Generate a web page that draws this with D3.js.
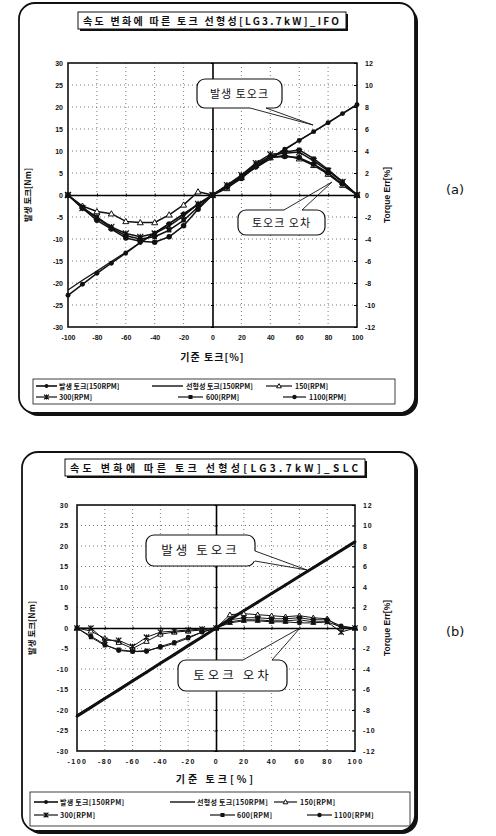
<!DOCTYPE html>
<html>
<head>
<meta charset="utf-8">
<script src="https://cdn.jsdelivr.net/npm/d3@7"></script>
<style>
  body { margin: 0; background: #fff; }
  text { fill: #111; }
</style>
</head>
<body>
<svg id="chart" width="496" height="836"></svg>
<script>
// reference torque [%] (x axis)
const torquePct = [-100,-90,-80,-70,-60,-50,-40,-30,-20,-10,0,10,20,30,40,50,60,70,80,90,100];
const xTicks = [-100,-80,-60,-40,-20,0,20,40,60,80,100];
const leftTicks = [-30,-25,-20,-15,-10,-5,0,5,10,15,20,25,30];
const rightTicks = [-12,-10,-8,-6,-4,-2,0,2,4,6,8,10,12];
const legendLabels = ['발생 토크[150RPM]','선형성 토크[150RPM]','150[RPM]','300[RPM]','600[RPM]','1100[RPM]'];

// (a) IFO  -- torque in Nm, errors in %
const genA = [-22.8,-20.3,-17.8,-15.5,-13.2,-10.8,-8.7,-6.5,-4.3,-2.1,0,2.1,4.2,6.3,8.4,10.4,12.4,14.4,16.4,18.5,20.5];
const linA = [-21.6,-19.4,-17.3,-15.1,-13.0,-10.8,-8.6,-6.5,-4.3,-2.2,0,2.1,4.1,6.2,8.2,10.3,12.4,14.4,16.5,18.5,20.6];
const err150A  = [0,-1.0,-1.5,-1.7,-2.4,-2.5,-2.5,-1.8,-0.9,0.3,0,0.6,1.6,2.7,3.4,3.6,3.3,2.7,1.9,0.9,0];
const err300A  = [0,-1.2,-2.0,-2.9,-3.5,-3.8,-3.5,-2.8,-1.9,-0.8,0,0.9,1.8,2.9,3.7,3.8,3.9,3.1,2.2,1.2,0];
const err600A  = [0,-1.1,-2.1,-3.0,-3.7,-4.0,-3.8,-3.2,-2.3,-1.1,0,0.8,1.7,2.8,3.5,3.9,4.1,3.3,2.3,1.2,0];
const err1100A = [0,-1.2,-2.3,-3.1,-3.9,-4.2,-4.3,-3.8,-2.8,-1.3,0,0.7,1.5,2.6,3.4,3.5,3.4,2.8,2.0,1.0,0];

// (b) SLC
const genB = [-21.5,-19.4,-17.2,-15.1,-12.9,-10.8,-8.6,-6.5,-4.3,-2.2,0,2.1,4.2,6.3,8.4,10.5,12.6,14.7,16.8,18.9,21.0];
const linB = [-21.2,-19.1,-17.0,-14.8,-12.7,-10.6,-8.5,-6.4,-4.2,-2.1,0,2.1,4.2,6.4,8.5,10.6,12.7,14.8,17.0,19.1,21.2];
const err150B  = [0,-0.3,-1.0,-1.4,-2.0,-1.3,-0.6,-0.4,-0.3,-0.2,0,1.3,1.4,1.3,1.2,1.1,1.2,1.0,0.9,0.0,0];
const err300B  = [0,0,-1.2,-1.2,-1.8,-0.9,-0.4,-0.3,-0.2,-0.1,0,0.6,0.8,0.8,0.7,0.7,0.8,0.6,0.6,-0.4,0];
const err600B  = [0,-0.9,-1.7,-2.1,-2.3,-2.2,-1.9,-1.5,-1.0,-0.4,0,0.5,0.7,0.7,0.6,0.6,0.5,0.5,0.6,0.1,0];
const err1100B = [0,-0.8,-1.6,-2.2,-2.3,-2.3,-1.8,-1.4,-0.9,-0.4,0,0.8,1.0,1.0,0.9,0.9,1.0,0.8,0.8,0.2,0];

const KR = "'Noto Sans CJK KR', 'Noto Sans', sans-serif";
const NUM = "'Liberation Sans', Arial, sans-serif";

const svg = d3.select('#chart');

// marker shapes
function marker(g, type, cx, cy, s) {
  if (type === 'circle') {
    g.append('circle').attr('cx', cx).attr('cy', cy).attr('r', s * 0.55).attr('fill', '#111');
  } else if (type === 'square') {
    g.append('rect').attr('x', cx - s * 0.5).attr('y', cy - s * 0.5).attr('width', s).attr('height', s).attr('fill', '#111');
  } else if (type === 'triangle') {
    g.append('path')
      .attr('d', `M${cx},${cy - s * 0.6}L${cx + s * 0.6},${cy + s * 0.45}L${cx - s * 0.6},${cy + s * 0.45}Z`)
      .attr('fill', '#fff').attr('stroke', '#111').attr('stroke-width', 1);
  } else if (type === 'star') {
    const r = s * 0.6;
    g.append('path')
      .attr('d', `M${cx - r},${cy - r}L${cx + r},${cy + r}M${cx - r},${cy + r}L${cx + r},${cy - r}M${cx},${cy - r}L${cx},${cy + r}`)
      .attr('stroke', '#111').attr('stroke-width', 1.2).attr('fill', 'none');
  }
}

function callout(g, c) {
  g.append('rect')
    .attr('x', c.box[0]).attr('y', c.box[1]).attr('width', c.box[2]).attr('height', c.box[3])
    .attr('rx', 8).attr('fill', '#fff').attr('stroke', '#111').attr('stroke-width', 1.2);
  g.append('line')
    .attr('x1', c.b1[0]).attr('y1', c.b1[1]).attr('x2', c.b2[0]).attr('y2', c.b2[1])
    .attr('stroke', '#fff').attr('stroke-width', 3);
  g.append('path')
    .attr('d', `M${c.b1[0]},${c.b1[1]}L${c.tip[0]},${c.tip[1]}L${c.b2[0]},${c.b2[1]}`)
    .attr('fill', 'none').attr('stroke', '#111').attr('stroke-width', 0.9);
  g.append('text')
    .attr('x', c.box[0] + c.box[2] / 2).attr('y', c.box[1] + c.box[3] / 2 + 4)
    .attr('text-anchor', 'middle')
    .style('font-family', KR).style('font-size', c.size + 'px')
    .style('letter-spacing', c.spacing + 'px')
    .text(c.text);
}

function drawPanel(p) {
  const g = svg.append('g');
  const [fx, fy, fw, fh] = p.frame;

  // rounded frame with heavy shadow
  g.append('rect').attr('x', fx + 3).attr('y', fy + 3).attr('width', fw).attr('height', fh)
    .attr('rx', 16).attr('fill', '#111');
  g.append('rect').attr('x', fx).attr('y', fy).attr('width', fw).attr('height', fh)
    .attr('rx', 16).attr('fill', '#fff').attr('stroke', '#111').attr('stroke-width', 1.8);

  // title box
  const [tx, ty, tw, th] = p.titleBox;
  g.append('rect').attr('x', tx + 2).attr('y', ty + 2).attr('width', tw).attr('height', th).attr('fill', '#111');
  g.append('rect').attr('x', tx).attr('y', ty).attr('width', tw).attr('height', th)
    .attr('fill', '#fff').attr('stroke', '#111').attr('stroke-width', 1);
  g.append('text')
    .attr('x', tx + 5).attr('y', ty + th / 2 + 4)
    .attr('textLength', tw - 12).attr('lengthAdjust', 'spacing')
    .style('font-family', KR).style('font-weight', 'bold').style('font-size', p.titleSize + 'px')
    .text(p.title);

  const { x0, x1, y0, y1 } = p.plot;
  const x = d3.scaleLinear().domain([-100, 100]).range([x0, x1]);
  const yL = d3.scaleLinear().domain([-30, 30]).range([y1, y0]);
  const yR = d3.scaleLinear().domain([-12, 12]).range([y1, y0]);

  // dotted grid
  const grid = g.append('g').attr('stroke', '#444').attr('stroke-width', 0.7).attr('stroke-dasharray', '1,3');
  grid.selectAll('.gx').data(xTicks.filter(v => v !== 0 && Math.abs(v) !== 100)).enter().append('line')
    .attr('x1', d => x(d)).attr('x2', d => x(d)).attr('y1', y0).attr('y2', y1);
  grid.selectAll('.gy').data(leftTicks.filter(v => v !== 0 && Math.abs(v) !== 30)).enter().append('line')
    .attr('y1', d => yL(d)).attr('y2', d => yL(d)).attr('x1', x0).attr('x2', x1);

  // plot border
  g.append('rect').attr('x', x0).attr('y', y0).attr('width', x1 - x0).attr('height', y1 - y0)
    .attr('fill', 'none').attr('stroke', '#111').attr('stroke-width', 1.6);

  // axes crossing at zero
  const zx = g.append('g').attr('transform', `translate(0,${yL(0)})`)
    .call(d3.axisBottom(x).tickValues(xTicks).tickFormat('').tickSizeInner(3).tickSizeOuter(0));
  zx.attr('transform', `translate(0,${yL(0) - 1.5})`);
  zx.select('.domain').attr('stroke-width', 1.6).attr('transform', 'translate(0,1.5)');
  zx.selectAll('.tick line').attr('stroke-width', 1);
  const zy = g.append('g').attr('transform', `translate(${x(0) + 1.5},0)`)
    .call(d3.axisLeft(yL).tickValues(leftTicks).tickFormat('').tickSizeInner(3).tickSizeOuter(0));
  zy.select('.domain').attr('stroke-width', 1.6).attr('transform', 'translate(-1.5,0)');

  // left tick labels
  const la = g.append('g').attr('transform', `translate(${x0},0)`)
    .call(d3.axisLeft(yL).tickValues(leftTicks).tickFormat(d => String(d)).tickSize(0).tickPadding(p.tickPad));
  la.select('.domain').remove();
  la.selectAll('text').style('font-family', NUM).style('font-weight', 'bold').style('font-size', '7px')
    .style('letter-spacing', p.numSpacing * 0.5 + 'px');

  // right axis
  const ra = g.append('g').attr('transform', `translate(${x1},0)`)
    .call(d3.axisRight(yR).tickValues(rightTicks).tickFormat(d => String(d)).tickSizeInner(-3).tickSizeOuter(0).tickPadding(8));
  ra.select('.domain').remove();
  ra.selectAll('text').style('font-family', NUM).style('font-weight', 'bold').style('font-size', '7px')
    .style('letter-spacing', p.numSpacing * 0.5 + 'px');

  // bottom tick labels
  const ba = g.append('g').attr('transform', `translate(0,${y1})`)
    .call(d3.axisBottom(x).tickValues(xTicks).tickFormat(d => String(d)).tickSize(0).tickPadding(8));
  ba.select('.domain').remove();
  ba.selectAll('text').style('font-family', NUM).style('font-weight', 'bold').style('font-size', '7px')
    .style('letter-spacing', p.numSpacing + 'px');

  // series
  const series = [
    { v: p.gen, y: yL, m: 'circle', w: p.genWidth, ms: p.genMarker },
    { v: p.lin, y: yL, m: null, w: 1.2 },
    { v: p.e150, y: yR, m: 'triangle', w: p.errWidth, ms: p.errMarker },
    { v: p.e300, y: yR, m: 'star', w: p.errWidth, ms: p.errMarker },
    { v: p.e600, y: yR, m: 'square', w: p.errWidth, ms: p.errMarker * 0.9 },
    { v: p.e1100, y: yR, m: 'circle', w: p.errWidth, ms: p.errMarker }
  ];
  series.forEach(s => {
    const line = d3.line().x((d, i) => x(torquePct[i])).y(d => s.y(d));
    g.append('path').datum(s.v).attr('d', line)
      .attr('fill', 'none').attr('stroke', '#111').attr('stroke-width', s.w).attr('stroke-linejoin', 'round');
  });
  series.forEach(s => {
    if (!s.m) return;
    const mg = g.append('g');
    s.v.forEach((d, i) => marker(mg, s.m, x(torquePct[i]), s.y(d), s.ms));
  });

  // callouts
  p.callouts.forEach(c => callout(g, c));

  // axis titles
  g.append('text')
    .attr('transform', `translate(${p.leftTitleX},${yL(0)}) rotate(-90)`)
    .attr('text-anchor', 'middle')
    .style('font-family', KR).style('font-weight', 'bold').style('font-size', '8.5px')
    .text('발생 토크[Nm]');
  g.append('text')
    .attr('transform', `translate(${p.rightTitleX},${yL(0)}) rotate(-90)`)
    .attr('text-anchor', 'middle')
    .style('font-family', NUM).style('font-weight', 'bold').style('font-size', '8.5px')
    .text('Torque Err[%]');
  g.append('text')
    .attr('x', x(0)).attr('y', p.xTitleY)
    .attr('text-anchor', 'middle')
    .style('font-family', KR).style('font-weight', 'bold').style('font-size', '10px')
    .style('letter-spacing', p.xTitleSpacing + 'px')
    .text('기준 토크[%]');

  // legend
  const [lx, ly, lw, lh] = p.legendBox;
  g.append('rect').attr('x', lx).attr('y', ly).attr('width', lw).attr('height', lh)
    .attr('fill', '#fff').attr('stroke', '#111').attr('stroke-width', 0.8);
  const lm = ['circle', null, 'triangle', 'star', 'square', 'circle'];
  const lwid = [1.6, 1.4, 1.2, 1.2, 1.2, 1.2];
  p.legendItems.forEach((it, i) => {
    g.append('line').attr('x1', it[0]).attr('x2', it[1]).attr('y1', it[3]).attr('y2', it[3])
      .attr('stroke', '#111').attr('stroke-width', lwid[i]);
    if (lm[i]) marker(g, lm[i], (it[0] + it[1]) / 2, it[3], i === 0 ? 3.5 : 4);
    g.append('text').attr('x', it[2]).attr('y', it[3] + 2.5)
      .style('font-family', KR).style('font-weight', 'bold').style('font-size', '7px')
      .style('letter-spacing', p.legendSpacing + 'px')
      .text(legendLabels[i]);
  });

  // panel label
  g.append('text').attr('x', 446).attr('y', p.labelY)
    .style('font-family', "'DejaVu Sans', sans-serif").style('font-size', '13px')
    .text(p.label);
}

drawPanel({
  frame: [19, 3, 396, 410],
  titleBox: [78, 12, 268, 17], title: '속도 변화에 따른 토크 선형성[LG3.7kW]_IFO', titleSize: 10,
  plot: { x0: 68, x1: 357, y0: 63, y1: 327 },
  tickPad: 5, numSpacing: 0,
  gen: genA, lin: linA, e150: err150A, e300: err300A, e600: err600A, e1100: err1100A,
  genWidth: 1.5, genMarker: 4.5, errWidth: 1.5, errMarker: 5,
  callouts: [
    { box: [197, 79, 85, 29], b1: [250, 108], b2: [266, 108], tip: [313, 125], text: '발생 토오크', size: 11, spacing: 1 },
    { box: [238, 210, 87, 25], b1: [284, 210], b2: [302, 210], tip: [332, 182], text: '토오크 오차', size: 11, spacing: 1 }
  ],
  leftTitleX: 31, rightTitleX: 390, xTitleY: 361, xTitleSpacing: 1,
  legendBox: [33, 379, 362, 25],
  legendItems: [
    [36, 57, 59, 386], [152, 183, 186, 386], [266, 292, 295, 386],
    [36, 57, 59, 397], [178, 203, 206, 397], [283, 306, 309, 397]
  ],
  legendSpacing: 0,
  label: '(a)', labelY: 194
});

drawPanel({
  frame: [22, 452, 393, 379],
  titleBox: [65, 459, 300, 17], title: '속도 변화에 따른 토크 선형성[LG3.7kW]_SLC', titleSize: 10,
  plot: { x0: 77, x1: 355, y0: 505, y1: 751 },
  tickPad: 8, numSpacing: 1.5,
  gen: genB, lin: linB, e150: err150B, e300: err300B, e600: err600B, e1100: err1100B,
  genWidth: 3, genMarker: 2.5, errWidth: 1, errMarker: 4.5,
  callouts: [
    { box: [146, 535, 109, 31], b1: [255, 551], b2: [255, 561], tip: [307, 570], text: '발생 토오크', size: 12.5, spacing: 3 },
    { box: [178, 660, 109, 31], b1: [243, 660], b2: [272, 660], tip: [300, 628], text: '토오크 오차', size: 12.5, spacing: 3 }
  ],
  leftTitleX: 35, rightTitleX: 390, xTitleY: 783, xTitleSpacing: 3,
  legendBox: [30, 792, 380, 34],
  legendItems: [
    [34, 58, 60, 802], [170, 195, 197, 802], [274, 297, 300, 802],
    [34, 58, 60, 815], [210, 235, 237, 815], [307, 332, 334, 815]
  ],
  legendSpacing: 0.3,
  label: '(b)', labelY: 636
});
</script>
</body>
</html>
